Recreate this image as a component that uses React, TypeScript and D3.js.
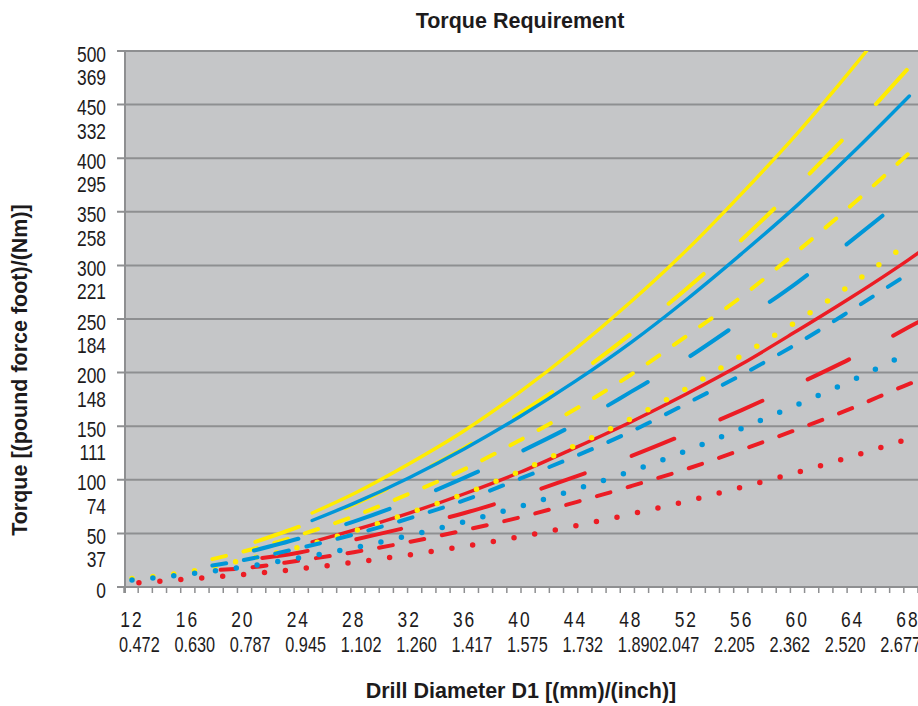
import React, { useRef, useEffect } from "react";
import * as d3 from "d3";

// y axis: Nm gridlines, with the lbf·ft equivalent printed under each one
const nmTicks = [0, 50, 100, 150, 200, 250, 300, 350, 400, 450, 500];
const lbfTicks = ["", "37", "74", "111", "148", "184", "221", "258", "295", "332", "369"];

// x axis: drill diameter in mm and inch
const mmTicks = [12, 16, 20, 24, 28, 32, 36, 40, 44, 48, 52, 56, 60, 64, 68];
const inchTicks = [
  "0.472", "0.630", "0.787", "0.945", "1.102", "1.260", "1.417", "1.575",
  "1.732", "1.890", "2.047", "2.205", "2.362", "2.520", "2.677",
];

// series values: [diameter mm, torque Nm]
const redSolid = [[25, 42], [28, 53], [32, 69], [36, 87], [40, 107], [44, 130], [48, 154], [52, 180], [56, 208], [60, 239], [64, 271], [68, 305], [69, 314]];
const redLong = [[21.4, 27], [24, 32], [28, 44], [32, 56], [36, 69], [40, 85], [44, 103], [48, 122], [52, 143], [56, 165], [60, 189], [64, 214], [68, 242], [69, 249]];
const redMedium = [[18.4, 16], [20, 17.5], [24, 24.5], [28, 32.5], [32, 42], [36, 53], [40, 65], [44, 79], [48, 94], [52, 110], [56, 128], [60, 147], [64, 167], [68, 189], [69, 194]];
const redDotted = [[12.5, 4], [16, 7.4], [20, 11.6], [24, 16.8], [28, 23], [32, 30], [36, 38], [40, 47], [44, 57], [48, 68], [52, 80], [56, 93], [60, 107], [64, 122], [68, 138]];

const yellowSolid = [[25, 69], [28, 87], [32, 115], [36, 146], [40, 182], [44, 222], [48, 266], [52, 314], [56, 367], [60, 423], [64, 484], [68, 549]];
const yellowLong = [[20.9, 42], [24, 56], [28, 77], [32, 102], [36, 130], [40, 162], [44, 197], [48, 236], [52, 278], [56, 324], [60, 374], [64, 427], [68.1, 485]];
const yellowMedium = [[17.8, 26], [20, 33], [24, 48], [28, 66], [32, 87], [36, 110], [40, 137], [44, 166], [48, 198], [52, 234], [56, 271], [60, 313], [64, 357], [68.1, 405]];
const yellowDotted = [[12, 8], [16, 14], [20, 25], [24, 37], [28, 52], [32, 69], [36, 87], [40, 108], [44, 132], [48, 157], [52, 185], [56, 216], [60, 248], [64, 283], [67.5, 316]];

const blueSolid = [[25, 62], [28, 78], [32, 102], [36, 129], [40, 159], [44, 192], [48, 228], [52, 268], [56, 311], [60, 356], [64, 405], [68.1, 458]];
const blueLong = [[20.8, 34], [24, 45], [28, 61], [32, 80], [36, 102], [40, 126], [44, 152], [48, 182], [52, 213], [56, 248], [60, 284], [64, 324], [68, 366], [69, 377]];
const blueMedium = [[17.8, 20], [20, 25], [24, 36], [28, 49], [32, 64], [36, 81], [40, 101], [44, 122], [48, 145], [52, 171], [56, 198], [60, 227], [64, 259], [68, 292]];
const blueDotted = [[12, 6.5], [16, 12], [20, 18.6], [24, 27], [28, 36.5], [32, 48], [36, 61], [40, 75], [44, 91], [48, 108], [52, 127], [56, 148], [60, 170], [64, 193], [67.5, 215]];

const RED = "#ec1c24";
const YELLOW = "#ffec00";
const BLUE = "#0097d8";

const dashStyles: Record<string, { width: number; dash: string | null }> = {
  solid: { width: 3.4, dash: null },
  long: { width: 4, dash: "46 50" },
  medium: { width: 4, dash: "14 18" },
  dot: { width: 5.5, dash: "0 21" },
};

// drawn red first, blue last (blue sits on top in the original)
const series = [
  { data: redSolid, color: RED, style: "solid" },
  { data: redLong, color: RED, style: "long" },
  { data: redMedium, color: RED, style: "medium" },
  { data: redDotted, color: RED, style: "dot" },
  { data: yellowSolid, color: YELLOW, style: "solid" },
  { data: yellowLong, color: YELLOW, style: "long" },
  { data: yellowMedium, color: YELLOW, style: "medium" },
  { data: yellowDotted, color: YELLOW, style: "dot" },
  { data: blueSolid, color: BLUE, style: "solid" },
  { data: blueLong, color: BLUE, style: "long" },
  { data: blueMedium, color: BLUE, style: "medium" },
  { data: blueDotted, color: BLUE, style: "dot" },
];

const TorqueChart: React.FC = () => {
  const ref = useRef<SVGSVGElement>(null);

  useEffect(() => {
    if (!ref.current) return;
    const W = 918;
    const H = 706;
    const plot = { left: 124, right: 918, top: 51, bottom: 587 };
    const font = "'Liberation Sans', Arial, Helvetica, sans-serif";
    const ink = "#1d1b1c";

    const svg = d3.select(ref.current);
    svg.selectAll("*").remove();
    svg.attr("width", W).attr("height", H);

    const x = d3.scaleLinear().domain([12, 68]).range([132, 908]);
    const y = d3.scaleLinear().domain([0, 500]).range([plot.bottom, plot.top]);
    // category tick marks along the bottom edge
    const catTicks = d3.scaleLinear().domain([0, 56]).range([plot.left, plot.right]);

    svg.append("rect").attr("width", W).attr("height", H).attr("fill", "#ffffff");

    svg
      .append("defs")
      .append("clipPath")
      .attr("id", "plot-clip")
      .append("rect")
      .attr("x", plot.left)
      .attr("y", plot.top)
      .attr("width", plot.right - plot.left)
      .attr("height", plot.bottom - plot.top);

    // plot background
    svg
      .append("rect")
      .attr("x", plot.left)
      .attr("y", plot.top)
      .attr("width", plot.right - plot.left)
      .attr("height", plot.bottom - plot.top)
      .attr("fill", "#c5c6c8");

    // gridlines
    svg
      .append("g")
      .selectAll("line")
      .data(nmTicks)
      .enter()
      .append("line")
      .attr("x1", plot.left - 7)
      .attr("x2", plot.right)
      .attr("y1", (d) => y(d))
      .attr("y2", (d) => y(d))
      .attr("stroke", "#8e8f91")
      .attr("stroke-width", 2);

    // left axis line
    svg
      .append("line")
      .attr("x1", plot.left + 1)
      .attr("x2", plot.left + 1)
      .attr("y1", plot.top)
      .attr("y2", plot.bottom + 6)
      .attr("stroke", "#8e8f91")
      .attr("stroke-width", 2);

    // bottom tick marks
    svg
      .append("g")
      .selectAll("line")
      .data(d3.range(0, 57))
      .enter()
      .append("line")
      .attr("x1", (d) => catTicks(d))
      .attr("x2", (d) => catTicks(d))
      .attr("y1", plot.bottom)
      .attr("y2", plot.bottom + 6)
      .attr("stroke", "#8e8f91")
      .attr("stroke-width", 1.5);

    // series
    const line = d3
      .line<number[]>()
      .x((d) => x(d[0]))
      .y((d) => y(d[1]))
      .curve(d3.curveMonotoneX);

    const lines = svg.append("g").attr("clip-path", "url(#plot-clip)");
    series.forEach((s) => {
      const st = dashStyles[s.style];
      const p = lines
        .append("path")
        .attr("d", line(s.data))
        .attr("fill", "none")
        .attr("stroke", s.color)
        .attr("stroke-width", st.width)
        .attr("stroke-linecap", "round");
      if (st.dash) p.attr("stroke-dasharray", st.dash);
    });

    // condensed tick label helper (the original uses a condensed face)
    const tickText = (
      g: d3.Selection<SVGGElement, unknown, null, undefined>,
      tx: number,
      ty: number,
      anchor: string,
      text: string,
      squeeze = 0.79,
      spacing = 0
    ) =>
      g
        .append("text")
        .attr("transform", `translate(${tx},${ty}) scale(${squeeze},1)`)
        .attr("text-anchor", anchor)
        .attr("font-size", 22)
        .attr("letter-spacing", spacing)
        .text(text);

    // y tick labels (Nm on the gridline, lbf ft below)
    const yLabels = svg.append("g").attr("font-family", font).attr("fill", ink);
    nmTicks.forEach((v, i) => {
      tickText(yLabels, 106, y(v) + 10.5, "end", String(v));
      if (lbfTicks[i]) tickText(yLabels, 106, y(v) + 34, "end", lbfTicks[i]);
    });

    // x tick labels: left-aligned pairs up to 48, right-aligned from 52
    const xLabels = svg.append("g").attr("font-family", font).attr("fill", ink);
    mmTicks.forEach((mm, i) => {
      const cx = x(mm);
      tickText(xLabels, cx, 627, "middle", String(mm), 0.79, 2.5);
      const leftSide = mm <= 48;
      tickText(xLabels, leftSide ? cx - 13 : cx + 13, 652, leftSide ? "start" : "end", inchTicks[i], 0.74);
    });

    // titles
    const titles = svg
      .append("g")
      .attr("font-family", font)
      .attr("font-weight", "bold")
      .attr("font-size", 21.5)
      .attr("fill", ink)
      .attr("text-anchor", "middle");

    titles.append("text").attr("x", 520).attr("y", 28).text("Torque Requirement");
    titles.append("text").attr("x", 521).attr("y", 698).text("Drill Diameter D1 [(mm)/(inch)]");
    titles
      .append("text")
      .attr("transform", "translate(27,370) rotate(-90)")
      .text("Torque [(pound force foot)/(Nm)]");
  }, []);

  return (
    <svg
      ref={ref}
      style={{ position: "absolute", left: 0, top: 0, display: "block" }}
    ></svg>
  );
};

export default function App() {
  return <TorqueChart />;
}
